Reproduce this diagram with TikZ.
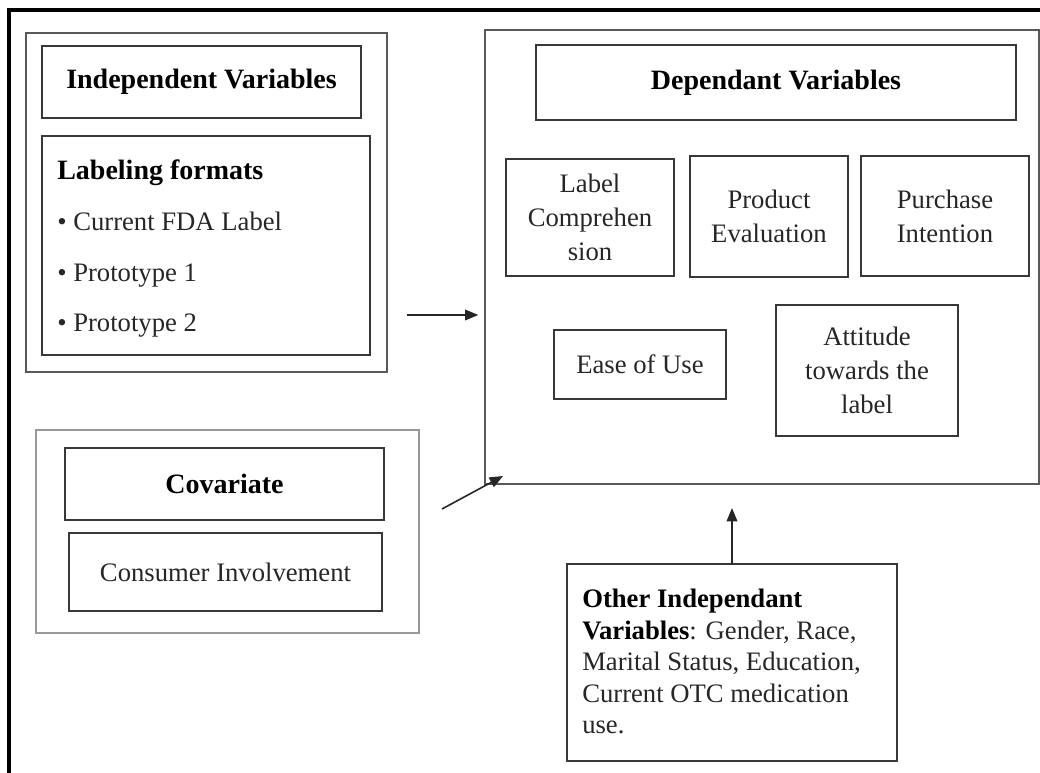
\documentclass[tikz,border=0pt]{standalone}
\usepackage{fontspec}
\setmainfont{Liberation Serif}
\usetikzlibrary{arrows.meta}
\newcommand\regf{\fontsize{20}{25.5}\selectfont}
\newcommand\boldf{\fontsize{21}{25.5}\selectfont\bfseries}
\newcommand\othf{\fontsize{20}{23.7}\selectfont}
\begin{document}
\begin{tikzpicture}[x=0.75pt,y=-0.75pt,
  wh/.style 2 args={minimum width=#1*0.75pt, minimum height=#2*0.75pt},
  bx/.style={draw=black!78, line width=1.4pt, inner sep=0pt, outer sep=0pt, align=center, font=\regf, text=black!85},
  outerbx/.style={bx, draw=black!65},
  lightbx/.style={bx, draw=black!40, line width=0.8pt},
  ttl/.style={bx, font=\boldf, text=black},
  txt/.style={anchor=base west, inner sep=0pt, font=\regf, text=black!85},
  arr/.style={-{Triangle[length=10pt,width=8pt]}, line width=1.2pt, draw=black!85}]
\useasboundingbox (0,0) rectangle (1040,773);
% frame
\draw[line width=2.3pt, line join=miter] (9,773) -- (9,10) -- (1040,10);
% independent variables
\node[outerbx, wh={361}{339}] (indepOuter) at (206.5,202.5) {};
\node[ttl, wh={319}{72}] (indepTitle) at (201.5,82) {Independent Variables};
\node[bx, wh={328}{219}] (labelBox) at (206,245.5) {};
\node[txt, font=\boldf, text=black] (lf) at (57,180) {Labeling formats};
\node[txt] (b1) at (57,231) {\textbullet\ Current FDA Label};
\node[txt] (b2) at (57,282) {\textbullet\ Prototype 1};
\node[txt] (b3) at (57,332) {\textbullet\ Prototype 2};
% dependant variables
\node[outerbx, wh={554}{454}] (depOuter) at (762,257) {};
\node[ttl, wh={480}{75}] (depTitle) at (776,82.5) {Dependant Variables};
\node[bx, wh={168}{117}] (lc) at (590,217.5) {Label\\Comprehen\\sion};
\node[bx, wh={158}{121}] (pe) at (769,216.5) {Product\\Evaluation};
\node[bx, wh={168}{120}] (pi) at (945,216) {Purchase\\Intention};
\node[bx, wh={172}{69}] (eou) at (640,364.5) {Ease of Use};
\node[bx, wh={182}{131}] (att) at (867,370.5) {Attitude\\towards the\\label};
% covariate
\node[lightbx, wh={383}{203}] (covOuter) at (227.5,531.5) {};
\node[ttl, wh={319}{72}] (covTitle) at (224.5,484) {Covariate};
\node[bx, wh={313}{78}] (ci) at (225.5,572) {Consumer Involvement};
% other independent
\node[bx, wh={330}{197}] (other) at (732,662.5) {};
\node[txt, font=\othf, align=left] (othertxt) at (582,734) {{\bfseries\color{black}Other Independant}\\{\bfseries\color{black}Variables}: Gender, Race,\\Marital Status, Education,\\Current OTC medication\\use.};
% arrows
\coordinate (h) at (0,315);
\draw[arr, shorten <=15pt, shorten >=5pt] (indepOuter.east |- h) -- (depOuter.west |- h);
\coordinate (ca) at (442,509);
\coordinate (cb) at (503,476);
\draw[arr] (ca) -- (cb);
\draw[arr, shorten >=18pt] (other.north) -- (other.north |- depOuter.south);
\end{tikzpicture}
\end{document}
